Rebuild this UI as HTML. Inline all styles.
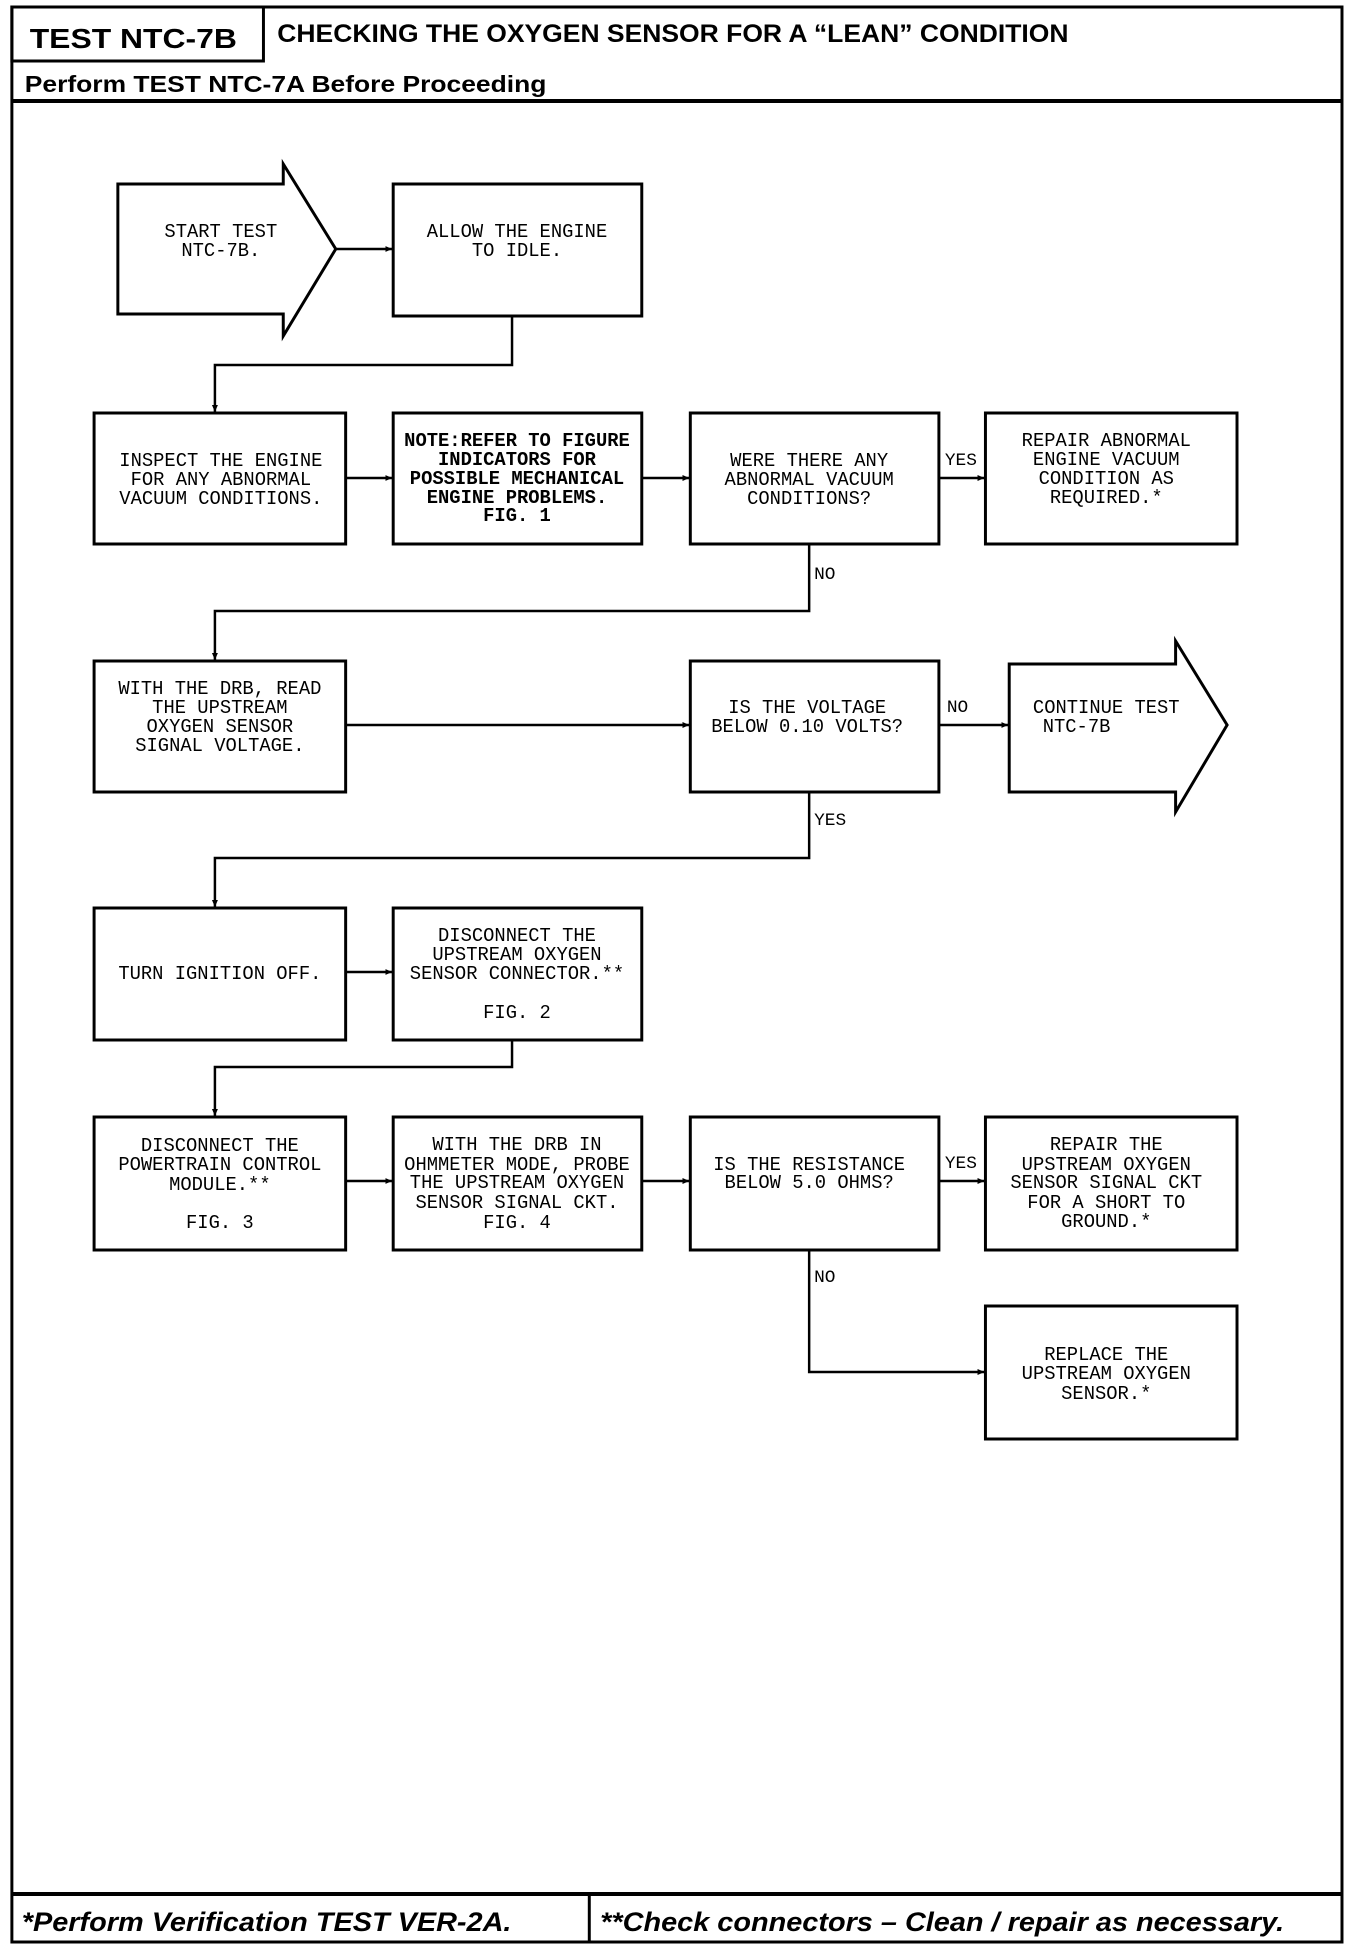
<!DOCTYPE html>
<html><head><meta charset="utf-8"><style>
html,body{margin:0;padding:0;background:#fff;}
svg{display:block;}
.t{font-family:"Liberation Mono",monospace;font-size:19px;fill:#000;}
.l{font-family:"Liberation Mono",monospace;font-size:18px;fill:#000;}
.h{font-family:"Liberation Sans",sans-serif;font-weight:bold;fill:#000;}
</style></head><body>
<svg width="1360" height="1948" viewBox="0 0 1360 1948" xmlns="http://www.w3.org/2000/svg">
<defs><marker id="a" markerWidth="8" markerHeight="8" refX="7" refY="4" orient="auto" markerUnits="userSpaceOnUse"><path d="M0,1 L7,4 L0,7 z" fill="#000"/></marker></defs>
<g transform="scale(0.9904 1)">
<g fill="none" stroke="#000">
<rect x="12" y="7" width="1343" height="1935" stroke-width="3"/>
<rect x="12" y="7" width="254" height="54" stroke-width="3"/>
<line x1="12" y1="101" x2="1355" y2="101" stroke-width="4"/>
<line x1="12" y1="1894" x2="1355" y2="1894" stroke-width="4"/>
<line x1="595" y1="1894" x2="595" y2="1942" stroke-width="3"/>
</g>
<text class="h" x="30" y="48" font-size="28" transform="translate(30 0) scale(1.15 1) translate(-30 0)">TEST NTC-7B</text>
<text class="h" x="280" y="42" font-size="25" transform="translate(280 0) scale(1.07 1) translate(-280 0)">CHECKING THE OXYGEN SENSOR FOR A “LEAN” CONDITION</text>
<text class="h" x="25" y="92" font-size="23" transform="translate(25 0) scale(1.16 1) translate(-25 0)">Perform TEST NTC-7A Before Proceeding</text>
<text class="h" x="22" y="1931" font-size="27" font-style="italic" transform="translate(22 0) scale(1.08 1) translate(-22 0)">*Perform Verification TEST VER-2A.</text>
<text class="h" x="606" y="1931" font-size="27" font-style="italic" transform="translate(606 0) scale(1.08 1) translate(-606 0)">**Check connectors – Clean / repair as necessary.</text>

<g fill="none" stroke="#000" stroke-width="3">
<path d="M119,184 H286 V164 L339,249 L286,336 V314 H119 Z"/>
<rect x="397" y="184" width="251" height="132"/>
<rect x="95" y="413" width="254" height="131"/>
<rect x="397" y="413" width="251" height="131"/>
<rect x="697" y="413" width="251" height="131"/>
<rect x="995" y="413" width="254" height="131"/>
<rect x="95" y="661" width="254" height="131"/>
<rect x="697" y="661" width="251" height="131"/>
<path d="M1019,664 H1187 V641 L1239,725 L1187,812 V792 H1019 Z"/>
<rect x="95" y="908" width="254" height="132"/>
<rect x="397" y="908" width="251" height="132"/>
<rect x="95" y="1117" width="254" height="133"/>
<rect x="397" y="1117" width="251" height="133"/>
<rect x="697" y="1117" width="251" height="133"/>
<rect x="995" y="1117" width="254" height="133"/>
<rect x="995" y="1306" width="254" height="133"/>
</g>
<g fill="none" stroke="#000" stroke-width="2.5" marker-end="url(#a)">
<line x1="339" y1="249" x2="396" y2="249"/>
<path d="M517,316 V365 H217 V412"/>
<line x1="349" y1="478" x2="396" y2="478"/>
<line x1="648" y1="478" x2="696" y2="478"/>
<line x1="948" y1="478" x2="994" y2="478"/>
<path d="M817,544 V611 H217 V660"/>
<line x1="349" y1="725" x2="696" y2="725"/>
<line x1="948" y1="725" x2="1018" y2="725"/>
<path d="M817,792 V858 H217 V907"/>
<line x1="349" y1="972" x2="396" y2="972"/>
<path d="M517,1040 V1067 H217 V1116"/>
<line x1="349" y1="1181" x2="396" y2="1181"/>
<line x1="648" y1="1181" x2="696" y2="1181"/>
<line x1="948" y1="1181" x2="994" y2="1181"/>
<path d="M817,1250 V1372 H994"/>
</g>
<g class="t" text-anchor="middle">
<text x="223" y="237">START TEST</text><text x="223" y="256">NTC-7B.</text>
<text x="522" y="237">ALLOW THE ENGINE</text><text x="522" y="256">TO IDLE.</text>
<text x="223" y="466">INSPECT THE ENGINE</text><text x="223" y="485">FOR ANY ABNORMAL</text><text x="223" y="504">VACUUM CONDITIONS.</text>
<g font-weight="bold"><text x="522" y="446">NOTE:REFER TO FIGURE</text><text x="522" y="465">INDICATORS FOR</text><text x="522" y="484">POSSIBLE MECHANICAL</text><text x="522" y="503">ENGINE PROBLEMS.</text><text x="522" y="521">FIG. 1</text></g>
<text x="817" y="466">WERE THERE ANY</text><text x="817" y="485">ABNORMAL VACUUM</text><text x="817" y="504">CONDITIONS?</text>
<text x="1117" y="446">REPAIR ABNORMAL</text><text x="1117" y="465">ENGINE VACUUM</text><text x="1117" y="484">CONDITION AS</text><text x="1117" y="503">REQUIRED.*</text>
<text x="222" y="694">WITH THE DRB, READ</text><text x="222" y="713">THE UPSTREAM</text><text x="222" y="732">OXYGEN SENSOR</text><text x="222" y="751">SIGNAL VOLTAGE.</text>
<text x="815" y="713">IS THE VOLTAGE</text><text x="815" y="732">BELOW 0.10 VOLTS?</text>
<text x="1117" y="713">CONTINUE TEST</text><text x="1087" y="732">NTC-7B</text>
<text x="222" y="979">TURN IGNITION OFF.</text>
<text x="522" y="941">DISCONNECT THE</text><text x="522" y="960">UPSTREAM OXYGEN</text><text x="522" y="979">SENSOR CONNECTOR.**</text><text x="522" y="1018">FIG. 2</text>
<text x="222" y="1151">DISCONNECT THE</text><text x="222" y="1170">POWERTRAIN CONTROL</text><text x="222" y="1190">MODULE.**</text><text x="222" y="1228">FIG. 3</text>
<text x="522" y="1150">WITH THE DRB IN</text><text x="522" y="1170">OHMMETER MODE, PROBE</text><text x="522" y="1188">THE UPSTREAM OXYGEN</text><text x="522" y="1208">SENSOR SIGNAL CKT.</text><text x="522" y="1228">FIG. 4</text>
<text x="817" y="1170">IS THE RESISTANCE</text><text x="817" y="1188">BELOW 5.0 OHMS?</text>
<text x="1117" y="1150">REPAIR THE</text><text x="1117" y="1170">UPSTREAM OXYGEN</text><text x="1117" y="1188">SENSOR SIGNAL CKT</text><text x="1117" y="1208">FOR A SHORT TO</text><text x="1117" y="1227">GROUND.*</text>
<text x="1117" y="1360">REPLACE THE</text><text x="1117" y="1379">UPSTREAM OXYGEN</text><text x="1117" y="1399">SENSOR.*</text>
</g>
<g class="l">
<text x="954" y="465">YES</text>
<text x="822" y="579">NO</text>
<text x="956" y="712">NO</text>
<text x="822" y="825">YES</text>
<text x="954" y="1168">YES</text>
<text x="822" y="1282">NO</text>
</g>
</g>
</svg>
</body></html>
